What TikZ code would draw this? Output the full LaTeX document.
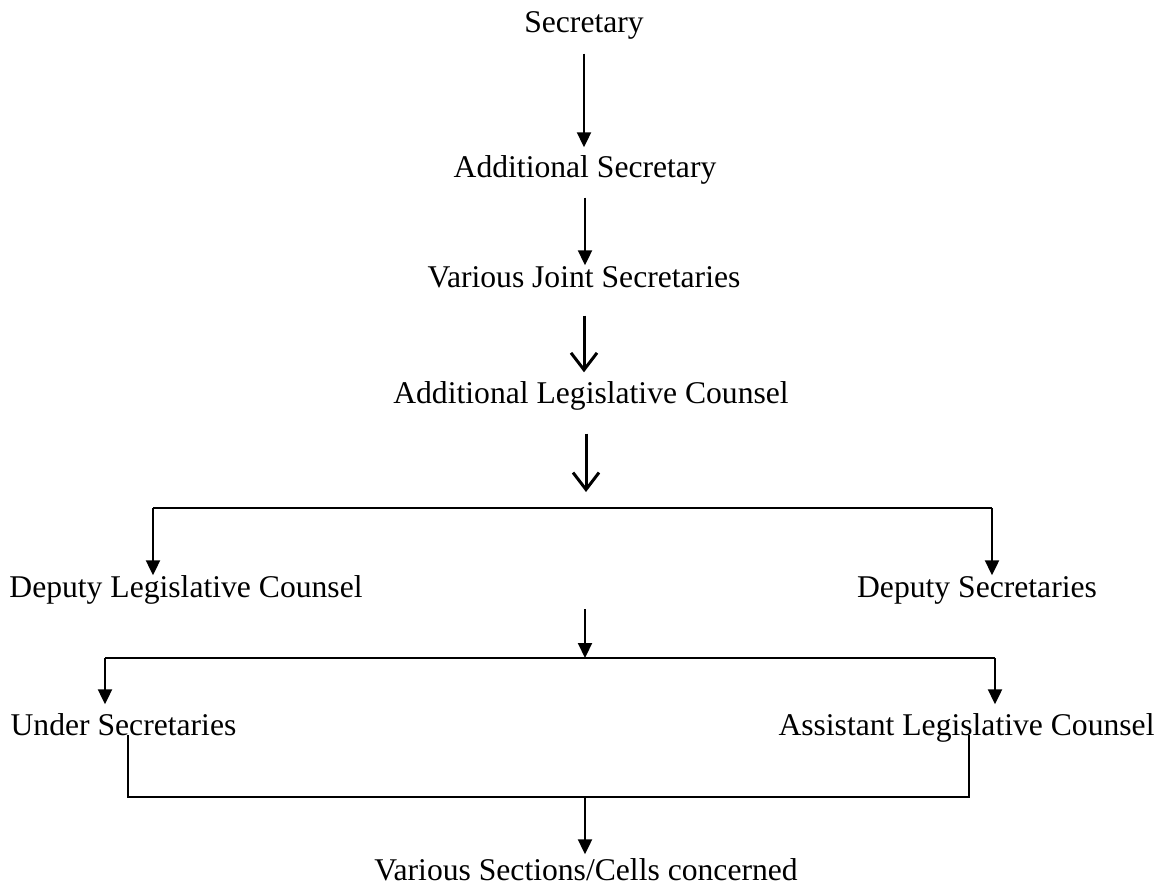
\documentclass[tikz,border=0pt]{standalone}
\usepackage{fontspec}
\setmainfont{Liberation Serif}
\usetikzlibrary{arrows.meta}

\begin{document}
\begin{tikzpicture}[
    post/.style = { anchor = base, inner sep = 0pt, text height = 0.21cm, text depth = 0.07cm,
                    font = \fontsize{9.0}{10}\selectfont },
    line/.style = { line width = 0.6pt },
    arrow/.style = { line, -{Triangle[ width = 0.14cm, length = 0.15cm ]} },
    barb/.style = { line width = 0.85pt, -{Straight Barb[ width = 0.26cm, length = 0.17cm ]} }
  ]
  \useasboundingbox (0.0, 0.0) rectangle (11.61, -8.86);

  \node [ post ] (sec)    at (5.84, -0.32) {Secretary};
  \node [ post ] (addsec) at (5.85, -1.77) {Additional Secretary};
  \node [ post ] (vjs)    at (5.84, -2.87) {Various Joint Secretaries};
  \node [ post ] (alc)    at (5.91, -4.03) {Additional Legislative Counsel};
  \node [ post ] (dlc)    at (1.86, -5.97) {Deputy Legislative Counsel};
  \node [ post ] (ds)     at (9.77, -5.97) {Deputy Secretaries};
  \node [ post ] (us)     at (1.235, -7.35) {Under Secretaries};
  \node [ post ] (als)    at (9.665, -7.35) {Assistant Legislative Counsel};
  \node [ post ] (vsc)    at (5.86, -8.80) {Various Sections/Cells concerned};

  \coordinate (busa)  at (5.86, -5.08);
  \coordinate (busl)  at (1.53, -5.08);
  \coordinate (busr)  at (9.92, -5.08);
  \coordinate (midtop) at (5.85, -6.09);
  \coordinate (busb)  at (5.85, -6.58);
  \coordinate (busbl) at (1.05, -6.58);
  \coordinate (busbr) at (9.95, -6.58);
  \coordinate (joinl) at (1.28, -7.97);
  \coordinate (joinr) at (9.69, -7.97);
  \coordinate (joinm) at (5.85, -7.97);

  \draw [ arrow, shorten < = 0.14cm, shorten > = 0.08cm ] (sec.south) -- (sec.south |- addsec.north);
  \draw [ arrow, shorten < = 0.13cm ] (addsec.south) -- (addsec.south |- vjs.north);
  \draw [ barb, shorten < = 0.21cm, shorten > = 0.09cm ] (vjs.south) -- (vjs.south |- alc.north);
  \draw [ barb, shorten < = 0.23cm, shorten > = 0.16cm ] (alc.south -| busa) -- (busa);

  \draw [ line ] (busl) -- (busr);
  \draw [ arrow ] (busl) -- (busl |- dlc.north);
  \draw [ arrow ] (busr) -- (busr |- ds.north);

  \draw [ arrow ] (midtop) -- (busb);
  \draw [ line ] (busbl) -- (busbr);
  \draw [ arrow, shorten > = 0.09cm ] (busbl) -- (busbl |- us.north);
  \draw [ arrow, shorten > = 0.09cm ] (busbr) -- (busbr |- als.north);

  \draw [ line ] (joinl |- us.base) -- (joinl) -- (joinr) -- (joinr |- als.base);
  \draw [ arrow, shorten > = 0.04cm ] (joinm) -- (joinm |- vsc.north);
\end{tikzpicture}
\end{document}
